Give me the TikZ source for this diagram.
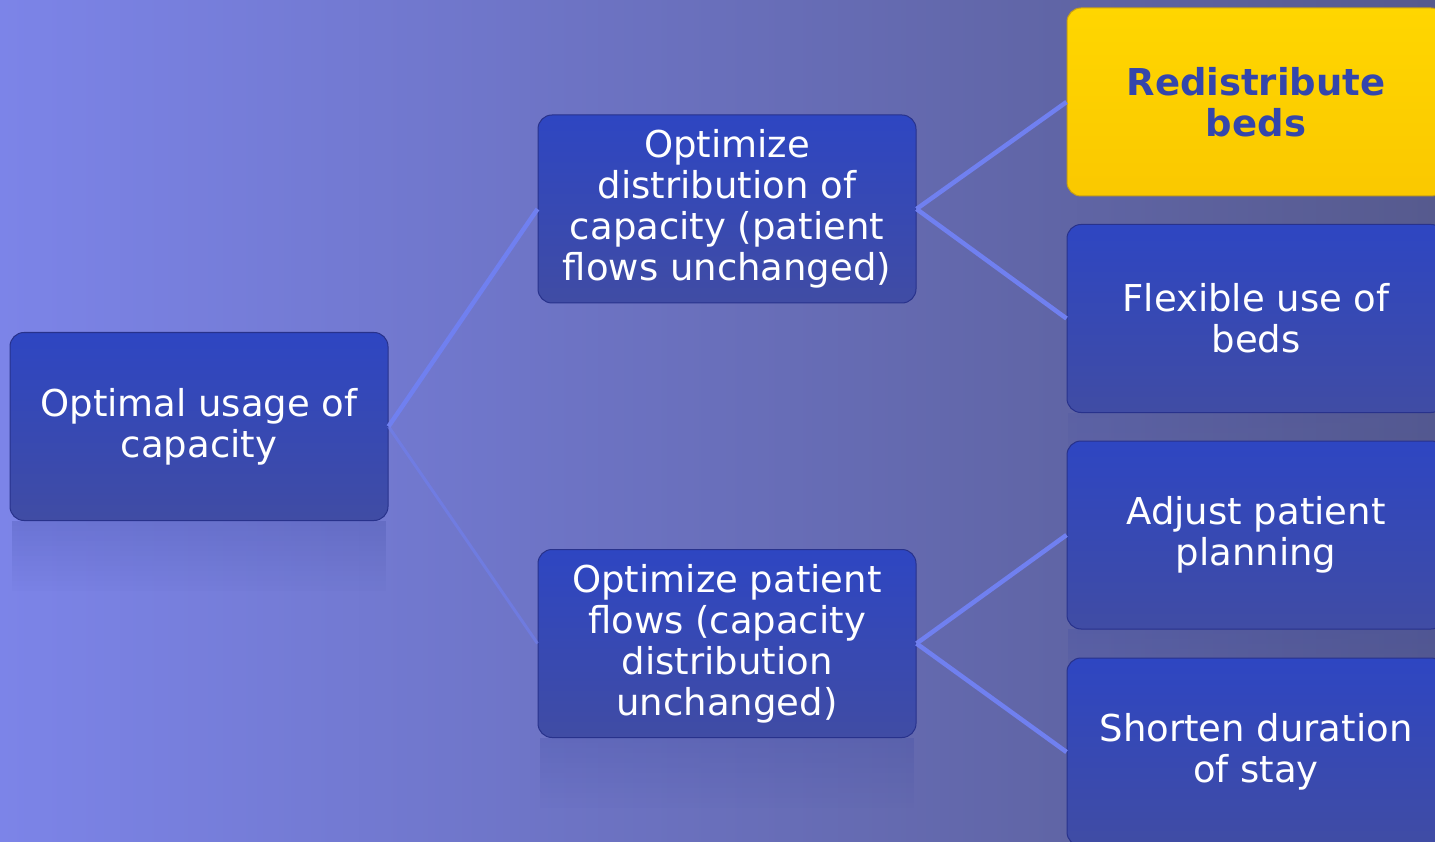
\documentclass[tikz,border=0pt]{standalone}
\usepackage{fontspec}
\setmainfont{DejaVu Sans}
\newlength{\du}
\setlength{\du}{1pt}
\definecolor{bgleft}{RGB}{124,132,232}
\definecolor{bgmid}{RGB}{106,112,192}
\definecolor{bgright}{RGB}{86,90,142}
\definecolor{boxtop}{RGB}{46,70,194}
\definecolor{boxbottom}{RGB}{64,76,164}
\definecolor{boxline}{RGB}{40,50,140}
\definecolor{goldtop}{RGB}{255,214,0}
\definecolor{goldbottom}{RGB}{250,200,0}
\definecolor{goldline}{RGB}{200,160,20}
\definecolor{goldtext}{RGB}{52,70,172}
\definecolor{linkcolor}{RGB}{112,128,240}
\tikzset{
  stepbox/.style={draw=boxline, line width=1\du, rounded corners=14\du,
    top color=boxtop, bottom color=boxbottom, minimum width=378\du,
    minimum height=188\du, inner sep=0pt, align=center, text=white,
    font=\fontsize{37}{41}\selectfont},
  goldbox/.style={stepbox, draw=goldline, top color=goldtop,
    bottom color=goldbottom, text=goldtext,
    font=\fontsize{37}{41}\selectfont\bfseries},
  link/.style={draw=linkcolor, line width=4.5\du},
}

\begin{document}
\begin{tikzpicture}
\pgftransformxscale{1.000000}
\pgftransformyscale{-1.000000}
\useasboundingbox (0\du,0\du) rectangle (1435\du,842\du);
\clip (0\du,0\du) rectangle (1435\du,842\du);
\fill[left color=bgleft, middle color=bgmid, right color=bgright] (0\du,0\du) rectangle (1435\du,842\du);
% reflections
\foreach \k [evaluate=\k as \op using 0.26-0.018*\k] in {0,...,13}
{
\fill[boxbottom, opacity=\op] (12\du,{(521+5*\k)*\du}) rectangle (386\du,{(526+5*\k)*\du});
\fill[boxbottom, opacity=\op] (540\du,{(738+5*\k)*\du}) rectangle (914\du,{(743+5*\k)*\du});
\fill[boxbottom, opacity=\op] (1068\du,{(629+5*\k)*\du}) rectangle (1446\du,{(634+5*\k)*\du});
\fill[boxbottom, opacity=\op/2] (1068\du,{(413+5*\k)*\du}) rectangle (1446\du,{(418+5*\k)*\du});
}
\node[stepbox] (usage) at (199\du,426.5\du) {Optimal usage of\\capacity};
\node[stepbox] (distribution) at (727\du,209\du) {Optimize\\distribution of\\capacity (patient\\flows unchanged)};
\node[stepbox] (flows) at (727\du,643.5\du) {Optimize patient\\flows (capacity\\distribution\\unchanged)};
\node[goldbox] (redistribute) at (1256\du,102\du) {Redistribute\\beds};
\node[stepbox] (flexible) at (1256\du,318.5\du) {Flexible use of\\beds};
\node[stepbox] (adjust) at (1256\du,535\du) {Adjust patient\\planning};
\node[stepbox] (shorten) at (1256\du,752\du) {Shorten duration\\of stay};
\draw[link] (usage.east) -- (distribution.west);
\draw[link, line width=3\du, opacity=0.6] (usage.east) -- (flows.west);
\draw[link] (distribution.east) -- (redistribute.west);
\draw[link] (distribution.east) -- (flexible.west);
\draw[link] (flows.east) -- (adjust.west);
\draw[link] (flows.east) -- (shorten.west);
\end{tikzpicture}
\end{document}
